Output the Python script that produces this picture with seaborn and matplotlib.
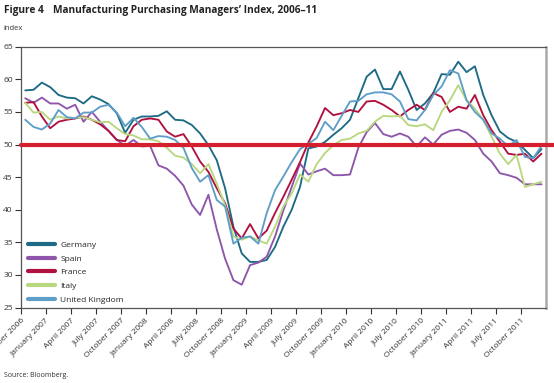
import numpy as np
import pandas as pd
import matplotlib
matplotlib.use("Agg")
import matplotlib.pyplot as plt
import seaborn as sns

# monthly PMI readings, October 2006 - December 2011
months = pd.date_range("2006-10-01", "2011-12-01", freq="MS")

germany = [58.3, 58.4, 59.5, 58.8, 57.6, 57.2, 57.1, 56.3, 57.4, 56.9, 56.2, 54.8, 51.8,
           53.8, 54.3, 54.3, 54.4, 55.1, 53.8, 53.7, 53.0, 51.7, 49.9, 47.6, 43.3, 37.4,
           33.3, 32.0, 32.0, 32.3, 34.3, 37.4, 40.0, 43.5, 49.4, 49.7, 50.4, 51.5, 52.5,
           53.8, 57.1, 60.4, 61.5, 58.5, 58.5, 61.2, 58.4, 55.3, 56.3, 57.9, 60.8, 60.7,
           62.7, 61.1, 62.0, 57.6, 54.5, 52.0, 51.0, 50.4, 49.2, 47.9, 49.3]
spain = [57.1, 56.4, 57.2, 56.3, 56.3, 55.5, 56.1, 53.5, 55.0, 53.5, 52.1, 50.7, 49.8,
         50.7, 49.7, 49.8, 46.8, 46.3, 45.2, 43.7, 40.8, 39.2, 42.3, 37.0, 32.5, 29.2,
         28.5, 31.5, 31.9, 32.8, 35.9, 39.9, 43.5, 47.1, 45.4, 45.9, 46.3, 45.3, 45.3,
         45.4, 49.5, 51.9, 53.3, 51.6, 51.2, 51.7, 51.2, 49.7, 51.1, 50.0, 51.5, 52.1,
         52.3, 51.8, 50.7, 48.6, 47.4, 45.6, 45.3, 44.9, 43.9, 43.9, 43.9]
france = [56.4, 56.5, 54.3, 52.5, 53.5, 53.8, 54.0, 54.3, 53.8, 53.1, 52.1, 50.7, 50.5,
          52.8, 53.8, 54.0, 53.8, 52.0, 51.2, 51.6, 49.7, 47.4, 45.8, 43.3, 41.0, 37.1,
          35.6, 37.8, 35.6, 36.8, 39.5, 42.0, 44.6, 47.3, 50.3, 52.8, 55.6, 54.5, 54.8,
          55.3, 55.0, 56.6, 56.7, 56.1, 55.3, 54.3, 55.3, 56.1, 55.3, 57.9, 57.3, 55.0,
          55.8, 55.5, 57.6, 54.5, 52.2, 50.4, 48.6, 48.4, 48.6, 47.4, 48.6]
italy = [56.4, 54.9, 55.0, 53.8, 54.3, 54.0, 54.1, 54.2, 53.8, 53.4, 53.5, 52.5, 51.6,
         51.4, 50.8, 50.8, 50.5, 49.5, 48.3, 48.0, 47.0, 45.6, 47.0, 44.0, 40.7, 35.9,
         35.4, 35.9, 35.3, 34.8, 37.4, 40.5, 42.5, 45.4, 44.3, 47.0, 48.7, 49.9, 50.7,
         50.9, 51.7, 52.1, 53.5, 54.4, 54.3, 54.4, 53.0, 52.8, 53.1, 52.2, 55.0, 56.8,
         59.1, 56.8, 55.5, 53.8, 51.2, 48.6, 47.0, 48.4, 43.5, 43.9, 44.3]
uk = [53.8, 52.7, 52.3, 53.2, 55.3, 54.2, 54.0, 54.9, 54.9, 55.8, 56.1, 54.9, 52.8,
      54.1, 52.7, 50.9, 51.3, 51.2, 50.7, 49.5, 46.4, 44.3, 45.3, 41.5, 40.5, 34.8,
      35.7, 35.9, 34.8, 39.5, 43.0, 45.1, 47.3, 49.3, 50.1, 51.0, 53.5, 52.2, 54.4,
      56.6, 56.7, 57.7, 58.0, 58.0, 57.7, 56.6, 53.9, 53.7, 55.3, 57.6, 58.9, 61.4,
      60.9, 56.8, 55.0, 53.8, 51.7, 50.9, 49.7, 50.7, 48.1, 47.9, 49.8]

countries = ["Germany", "Spain", "France", "Italy", "United Kingdom"]
colors = {"Germany": "#1d6b84", "Spain": "#8e56aa", "France": "#b0113f",
          "Italy": "#b9d77f", "United Kingdom": "#5f9ec8"}

quarter_labels = ["October 2006", "January 2007", "April 2007", "July 2007", "October 2007",
                  "January 2008", "April 2008", "July 2008", "October 2008",
                  "January 2009", "April 2009", "July 2009", "October 2009",
                  "January 2010", "April 2010", "July 2010", "October 2010",
                  "January 2011", "April 2011", "July 2011", "October 2011"]

# long form table for seaborn
step = np.arange(len(months))
df = pd.concat([
    pd.DataFrame({"step": step, "index": vals, "country": name})
    for name, vals in zip(countries, [germany, spain, france, italy, uk])
])

sns.set_style("white")
plt.rcParams["font.family"] = ["Open Sans", "DejaVu Sans"]

fig = plt.figure(figsize=(5.54, 3.83), dpi=100)
ax = fig.add_axes([0.038, 0.197, 0.947, 0.681])

sns.lineplot(data=df, x="step", y="index", hue="country", hue_order=countries,
             palette=colors, linewidth=1.35, ax=ax)

# 50 threshold line, runs past the right edge
ax.axhline(50, xmin=0, xmax=1.016, color="#d61f2e", linewidth=3, clip_on=False, zorder=5)

ax.set_xlim(-0.5, len(months) - 0.5)
ax.set_ylim(25, 65)
ax.set_yticks(range(25, 66, 5))
ax.set_xticks(np.arange(len(quarter_labels)) * 3 - 0.5)
ax.set_xticklabels(quarter_labels, rotation=45, ha="right", rotation_mode="anchor")
ax.set_xlabel("")
ax.set_ylabel("")

ax.tick_params(axis="both", labelsize=6, colors="#333333", length=4, width=0.8,
               direction="out", pad=2)
ax.tick_params(axis="x", pad=3)
ax.tick_params(left=True, bottom=True)

for side in ["left", "bottom", "top"]:
    ax.spines[side].set_color("#555555")
    ax.spines[side].set_linewidth(0.9)
ax.spines["right"].set_color("#aaaaaa")
ax.spines["right"].set_linewidth(1.8)

handles, labels = ax.get_legend_handles_labels()
leg = ax.legend(handles, labels, loc="lower left", frameon=False, fontsize=6,
                handlelength=3.3, handletextpad=0.6, labelspacing=0.72,
                bbox_to_anchor=(0.0, -0.012), borderaxespad=0.4)
for line in leg.get_lines():
    line.set_linewidth(3)

fig.text(0.007, 0.973, "Figure 4", fontsize=7.3, fontweight="bold", color="#222222", va="center")
fig.text(0.096, 0.973, "Manufacturing Purchasing Managers\u2019 Index, 2006\u201311",
         fontsize=7.3, fontweight="bold", color="#222222", va="center")
fig.text(0.007, 0.925, "index", fontsize=5.5, color="#333333", va="center")
fig.text(0.007, 0.02, "Source: Bloomberg.", fontsize=5, color="#333333", va="center")

fig.savefig("out.png", dpi=100)
